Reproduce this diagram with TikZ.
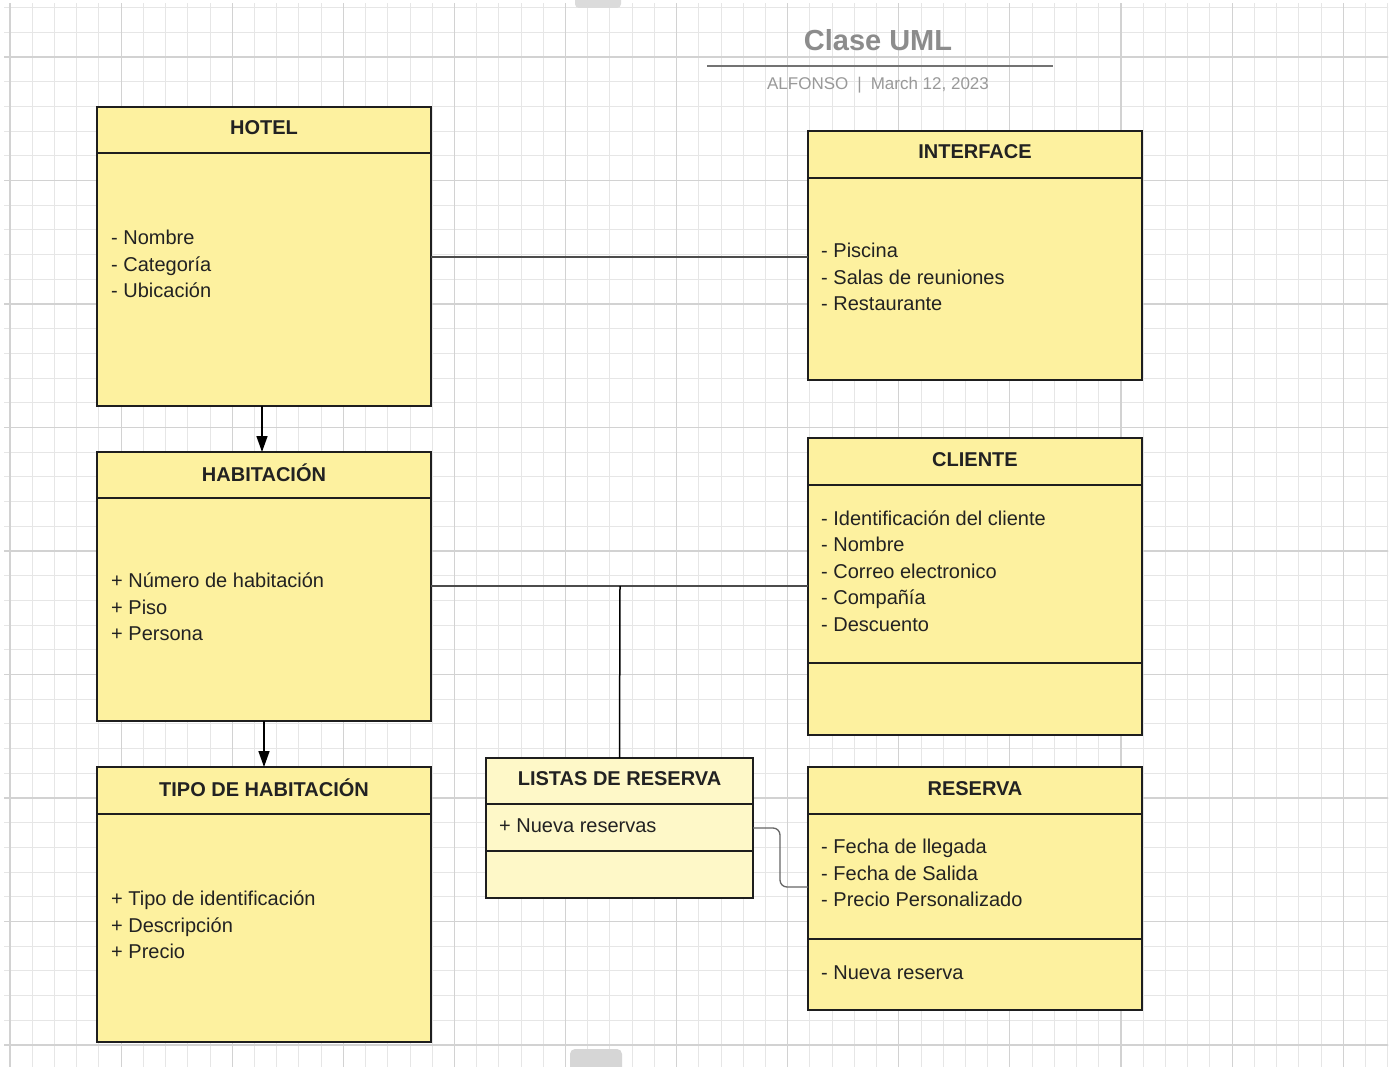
\documentclass[tikz,border=0pt]{standalone}
\usepackage{fontspec}
\setmainfont{Liberation Sans}
\usetikzlibrary{arrows.meta,calc}

\definecolor{classfill}{HTML}{FDF19F}
\definecolor{listfill}{HTML}{FEF8C8}
\definecolor{inkline}{HTML}{1E1E1E}
\definecolor{textink}{HTML}{222222}
\definecolor{gridminor}{HTML}{E6E6E6}
\definecolor{gridmajor}{HTML}{D2D2D2}

\tikzset{
  gminor/.style={gridminor, line width=0.9pt},
  gmajor/.style={gridmajor, line width=1.1pt},
  sect/.style={draw=inkline, line width=1.8pt, fill=classfill, minimum width=334pt, inner sep=0pt, outer sep=0pt, anchor=north},
  lsect/.style={sect, fill=listfill, minimum width=267pt},
  headtxt/.style={font=\fontsize{20}{24}\selectfont\bfseries, text=textink},
  attr/.style={anchor=west, align=left, inner sep=0pt, text=textink, font=\fontsize{20}{26.5}\selectfont},
  assoc/.style={draw=black!70, line width=1.5pt},
  gen/.style={draw=black, line width=1.5pt, -{Triangle[length=16pt,width=11pt]}},
}

\begin{document}
\begin{tikzpicture}[x=1pt,y=-1pt]
\useasboundingbox (0,0) rectangle (1396,1067);
\fill[white] (0,0) rectangle (1396,1067);

% background grid
\begin{scope}
\clip (4,4) rectangle (1388,1067);
\foreach \k in {0,...,62} \draw[gminor] ({10+\k*22.22},0) -- ({10+\k*22.22},1067);
\foreach \k in {0,...,42} \draw[gminor] (0,{7.6+\k*24.7}) -- (1396,{7.6+\k*24.7});
\foreach \k in {0,5,...,60} \draw[gmajor] ({10+\k*22.22},0) -- ({10+\k*22.22},1067);
\foreach \k in {2,7,...,42} \draw[gmajor] (0,{7.6+\k*24.7}) -- (1396,{7.6+\k*24.7});
\end{scope}

% canvas tabs
\fill[black!14, rounded corners=4pt] (575,-8) rectangle (621,8);
\fill[black!16, rounded corners=5pt] (570,1049) rectangle (622,1080);

% title block
\node[font=\fontsize{29}{32}\selectfont\bfseries, text=black!45] (title) at (878,40) {Clase UML};
\coordinate (ruleL) at (707,66);
\coordinate (ruleR) at (1053,66);
\draw[black!55, line width=1.5pt] (ruleL) -- (ruleR);
\node[font=\fontsize{17}{20}\selectfont, text=black!40] (subtitle) at (878,85) {ALFONSO\hspace{9pt}|\hspace{9pt}March 12, 2023};

% HOTEL
\node[sect, minimum height=46pt] (hotelH) at (264,107) {};
\node[sect, minimum height=253pt] (hotelB) at (hotelH.south) {};
\node[headtxt] (hotelT) at (264,128) {HOTEL};
\node[attr] (hotelA) at (111,264) {- Nombre\\- Categoría\\- Ubicación};

% INTERFACE
\node[sect, minimum height=47pt] (ifaceH) at (975,131) {};
\node[sect, minimum height=202pt] (ifaceB) at (ifaceH.south) {};
\node[headtxt] (ifaceT) at (975,152) {INTERFACE};
\node[attr] (ifaceA) at (821,277) {- Piscina\\- Salas de reuniones\\- Restaurante};

% HABITACION
\node[sect, minimum height=46pt] (habH) at (264,452) {};
\node[sect, minimum height=223pt] (habB) at (habH.south) {};
\node[headtxt] (habT) at (264,473) {HABITACIÓN};
\node[attr] (habA) at (111,607) {+ Número de habitación\\+ Piso\\+ Persona};

% TIPO DE HABITACION
\node[sect, minimum height=47pt] (tipoH) at (264,767) {};
\node[sect, minimum height=228pt] (tipoB) at (tipoH.south) {};
\node[headtxt] (tipoT) at (264,788) {TIPO DE HABITACIÓN};
\node[attr] (tipoA) at (111,925) {+ Tipo de identificación\\+ Descripción\\+ Precio};

% CLIENTE
\node[sect, minimum height=47pt] (cliH) at (975,438) {};
\node[sect, minimum height=178pt] (cliB) at (cliH.south) {};
\node[sect, minimum height=72pt] (cliM) at (cliB.south) {};
\node[headtxt] (cliT) at (975,460) {CLIENTE};
\node[attr] (cliA) at (821,571) {- Identificación del cliente\\- Nombre\\- Correo electronico\\- Compañía\\- Descuento};

% LISTAS DE RESERVA
\node[lsect, minimum height=46pt] (listH) at (619.5,758) {};
\node[lsect, minimum height=47pt] (listB) at (listH.south) {};
\node[lsect, minimum height=47pt] (listM) at (listB.south) {};
\node[headtxt] (listT) at (619.5,779) {LISTAS DE RESERVA};
\node[attr] (listA) at (499,826) {+ Nueva reservas};

% RESERVA
\node[sect, minimum height=47pt] (resH) at (975,767) {};
\node[sect, minimum height=125pt] (resB) at (resH.south) {};
\node[sect, minimum height=71pt] (resM) at (resB.south) {};
\node[headtxt] (resT) at (975,789) {RESERVA};
\node[attr] (resA) at (821,873) {- Fecha de llegada\\- Fecha de Salida\\- Precio Personalizado};
\node[attr] (resOp) at (821,973) {- Nueva reserva};

% connectors
\draw[assoc] (hotelB.east |- 0,257) -- (ifaceB.west |- 0,257);
\draw[gen] (hotelB.south -| 262,0) -- (habH.north -| 262,0);
\draw[gen] (habB.south) -- (tipoH.north);
\coordinate (junc) at (620,586);
\draw[assoc] (habB.east |- junc) -- (cliB.west |- junc);
\draw[draw=black, line width=1.5pt] (junc) -- (listH.north);
\draw[draw=black!60, line width=1.3pt, rounded corners=7pt]
  (listB.east |- 0,828) -- (780,828) -- (780,887) -- (resB.west |- 0,887);
\end{tikzpicture}
\end{document}
